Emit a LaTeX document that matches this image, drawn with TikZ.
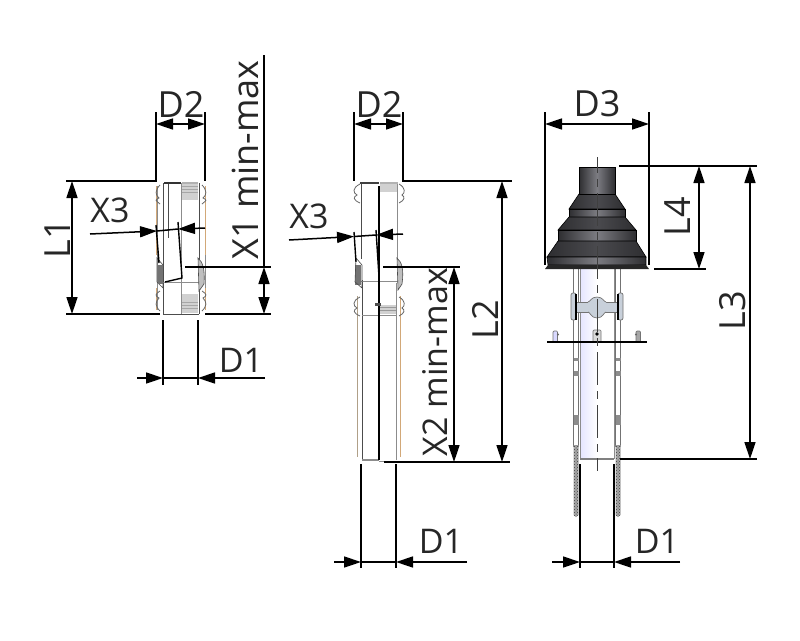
\documentclass[tikz,border=0pt]{standalone}
\usepackage{fontspec}
\setmainfont{Open Sans}
\usetikzlibrary{arrows.meta,patterns}
\definecolor{rubber}{HTML}{4A4A4E}
\definecolor{rubberhi}{HTML}{7C7C82}
\definecolor{rubberdk}{HTML}{2E2E31}
\definecolor{copper}{HTML}{D2A878}
\definecolor{copperg}{HTML}{B0A088}
\definecolor{clampc}{HTML}{C8D0DA}
\tikzset{
  dimline/.style={line width=1.5pt,black},
  extline/.style={line width=1.5pt,black},
  dimarrow/.style={line width=1.5pt,black,-{Triangle[length=17pt,width=11pt]}},
  dimtwo/.style={line width=1.5pt,black,{Triangle[length=17pt,width=11pt]}-{Triangle[length=17pt,width=11pt]}},
  lab/.style={font=\fontsize{36}{36}\selectfont,inner sep=0pt,text=black!85},
  labsm/.style={font=\fontsize{34}{34}\selectfont,inner sep=0pt,text=black!85},
  partline/.style={line width=0.9pt,black!70},
  partgrey/.style={line width=1pt,black!45},
  partdark/.style={line width=1.4pt,black},
  coppline/.style={line width=1pt,copper},
  rubberband/.style={left color=rubberdk,right color=rubberdk,middle color=rubberhi,draw=black,line width=0.6pt},
  rubbercone/.style={left color=rubberdk,right color=rubberdk,middle color=rubber,draw=black,line width=0.6pt},
  rod/.style={draw=black!55,line width=0.9pt,fill=white},
  centerl/.style={line width=1pt,black!75,dash pattern=on 33pt off 6pt on 8pt off 6pt,dash phase=17pt},
  clampp/.style={draw=black!55,line width=0.7pt,fill=clampc},
  stripeblock/.style={fill=black!18},
}
\begin{document}
\begin{tikzpicture}[x=1pt,y=-1pt]
\useasboundingbox (0,0) rectangle (800,640);
\fill[white] (0,0) rectangle (800,640);

% ---- left part ----
\fill[stripeblock] (182,184) rectangle (198,200);
\fill[stripeblock] (182,294) rectangle (198,313);
\foreach \yy in {186,189,192}{\draw[black!35,line width=.6pt] (182,\yy) -- (198,\yy);}
\foreach \yy in {302,305,308}{\draw[black!35,line width=.6pt] (182,\yy) -- (198,\yy);}
\draw[partgrey] (157,186) -- (157,310) (205,186) -- (205,310);
\draw[coppline,line width=.7pt] (156.5,186) -- (156.5,255) (205.5,186) -- (205.5,255) (156.5,288)--(156.5,310) (205.5,288)--(205.5,310);
\draw[partline] (163,183) -- (163,314) (199,183) -- (199,262) (199,290) -- (199,314);
\draw[partgrey] (181,183) -- (181,314) (163,282) -- (199,282);
\draw[partline] (163,314) -- (199,314);
\draw[line width=2pt,black!80] (164,183) -- (181,183);
\draw[line width=2.5pt,black!30] (182,183) -- (198,183);
\draw[line width=.8pt,black!60] (160,185) .. controls (155,190) and (155,195) .. (159,198) .. controls (155,200) and (155,200) .. (160,204);
\draw[line width=.8pt,black!60] (202,185) .. controls (207,190) and (207,195) .. (203,198) .. controls (207,200) and (207,200) .. (202,204);
\draw[line width=.8pt,black!60] (160,311) .. controls (155,306) and (155,302) .. (159,298) .. controls (155,296) and (155,294) .. (160,291);
\draw[line width=.8pt,black!60] (202,311) .. controls (207,306) and (207,302) .. (203,298) .. controls (207,296) and (207,294) .. (202,291);
\draw[black!70,line width=.6pt] (157,258) -- (163,265) -- (163,288) -- (157,282) -- cycle;
\fill[black!55] (158,265) rectangle (163,284);
\fill[black!25] (198,258) .. controls (203,262) and (205,270) .. (204,284) -- (199,291) -- cycle;
\draw[black!70,line width=.6pt] (198,258) .. controls (203,262) and (205,270) .. (204,284) -- (199,291) -- cycle;
\draw[partdark] (156,225) -- (159,263) (178,222) -- (182,278) -- (165,282);
\draw[partline] (168,184) -- (168,238);

\coordinate (L1t) at (66,181);\coordinate (L1b) at (66,314);
\coordinate (L1ta) at (72,181);\coordinate (L1ba) at (72,314);
\draw[extline] (L1t) -- (157,181) (L1b) -- (160,314) (205,314) -- (271,314);
\draw[dimtwo] (L1ta) -- (L1ba);
\node[lab,rotate=90] (tL1) at (58,239) {L1};
\draw[extline] (156,112) -- (156,181) (205,112) -- (205,181);
\coordinate (D2l) at (156,124);\coordinate (D2r) at (205,124);
\draw[dimtwo] (D2l) -- (D2r);
\node[lab] (tD2a) at (181,104) {D2};
\draw[extline] (185,267) -- (271,267);
\draw[extline] (264,55) -- (264,267);
\coordinate (X1t) at (264,267);\coordinate (X1b) at (264,314);
\draw[dimtwo] (X1t) -- (X1b);
\node[lab,rotate=90] (tX1) at (245,160) {X1 min-max};
\coordinate (X3s) at (90,234);\coordinate (X3a) at (157,231);\coordinate (X3b) at (178,229);\coordinate (X3e) at (205,228);
\draw[dimarrow] (X3s) -- (X3a);
\draw[dimarrow] (X3e) -- (X3b);
\draw[dimline] (X3a) -- (X3b);
\node[labsm] (tX3a) at (110,210) {X3};
\draw[extline] (163,320) -- (163,385) (198,320) -- (198,385);
\coordinate (D1ll) at (137,378);\coordinate (D1lr) at (163,378);\coordinate (D1rl) at (198,378);\coordinate (D1rr) at (265,378);
\draw[dimarrow] (D1ll) -- (D1lr);
\draw[dimarrow] (D1rr) -- (D1rl);
\draw[dimline] (D1lr) -- (D1rl);
\node[labsm] (tD1a) at (241,360) {D1};

% ---- middle part ----
\fill[stripeblock] (380,184) rectangle (397,192);
\fill[stripeblock] (380,305) rectangle (397,314);
\foreach \yy in {307,310}{\draw[black!40,line width=.6pt] (380,\yy) -- (397,\yy);}
\draw[partgrey] (397,183) -- (397,259);
\draw[partline] (361,183) -- (361,259) (362,280) -- (362,460);
\draw[partgrey] (396.5,283) -- (396.5,460);
\draw[partgrey,line width=1.4pt] (362,460) -- (379,460);
\draw[partgrey] (379,461) -- (397,461) (361,281) -- (398,281) (362,315) -- (397,315);
\draw[coppline,copperg] (357,296) -- (357,457);
\draw[coppline] (400,296) -- (400,457);
\draw[line width=2.5pt,black!75] (360,183) -- (379,183);
\draw[line width=2.5pt,black!30] (380,183) -- (398,183);
\draw[partdark] (379,186) -- (379,460);
\draw[line width=.8pt,black!60] (360,184) .. controls (352,188) and (353,193) .. (357,195) .. controls (353,197) and (353,200) .. (360,203);
\draw[line width=.8pt,black!60] (399,184) .. controls (406,188) and (405,193) .. (402,195) .. controls (405,197) and (405,200) .. (399,203);
\draw[line width=.8pt,black!60] (360,297) .. controls (352,301) and (353,306) .. (357,308) .. controls (353,310) and (353,313) .. (360,316);
\draw[line width=.8pt,black!60] (399,297) .. controls (406,301) and (405,306) .. (402,308) .. controls (405,310) and (405,313) .. (399,316);
\fill[black!55] (355,265) rectangle (361,285);
\draw[black!70,line width=.6pt] (356,258) -- (362,265) -- (362,288) -- (355,282) -- cycle;
\fill[black!25] (397,258) .. controls (402,262) and (404,270) .. (402,284) -- (398,290) -- cycle;
\draw[black!70,line width=.6pt] (397,258) .. controls (402,262) and (404,270) .. (402,284) -- (398,290) -- cycle;
\fill[black!70] (375,303) rectangle (381,306);
\draw[partdark] (354,232) -- (356,262) (376,230) -- (379,277);

\draw[extline] (354,112) -- (354,181) (403,112) -- (403,181) -- (512,181);
\coordinate (D2bl) at (354,124);\coordinate (D2br) at (403,124);
\draw[dimtwo] (D2bl) -- (D2br);
\node[lab] (tD2b) at (379,104) {D2};
\coordinate (L2t) at (502,181);\coordinate (L2b) at (502,462);
\draw[dimtwo] (L2t) -- (L2b);
\draw[extline] (384,462) -- (510,462);
\node[lab,rotate=90] (tL2) at (485,320) {L2};
\draw[extline] (383,267) -- (460,267);
\coordinate (X2t) at (454,267);\coordinate (X2b) at (454,462);
\draw[dimtwo] (X2t) -- (X2b);
\node[labsm,rotate=90] (tX2) at (435,362) {X2 min-max};
\coordinate (X3bs) at (289,240);\coordinate (X3ba) at (354,236.5);\coordinate (X3bb) at (376,235);\coordinate (X3be) at (403,234);
\draw[dimarrow] (X3bs) -- (X3ba);
\draw[dimarrow] (X3be) -- (X3bb);
\draw[dimline] (X3ba) -- (X3bb);
\node[labsm] (tX3b) at (309,216) {X3};
\draw[extline] (361,464) -- (361,568) (396,464) -- (396,568);
\coordinate (D1bll) at (334,562);\coordinate (D1blr) at (361,562);\coordinate (D1brl) at (396,562);\coordinate (D1brr) at (467,562);
\draw[dimarrow] (D1bll) -- (D1blr);
\draw[dimarrow] (D1brr) -- (D1brl);
\draw[dimline] (D1blr) -- (D1brl);
\node[labsm] (tD1b) at (441,541) {D1};

% ---- right part ----
\shade[left color=blue!10,right color=white] (580,268) rectangle (597,459);
\draw[line width=.9pt,black!45] (580,268) -- (580,459) (614,268) -- (614,459);
\draw[line width=1.2pt,black!50] (580,459) -- (614,459);
% rods
\foreach \xa in {573.5,615.5}{
  \draw[rod] (\xa,268) rectangle (\xa+5,446);
  \fill[black!45] (\xa,358) rectangle (\xa+5,361);
  \fill[black!45] (\xa,415) rectangle (\xa+5,425);
  \fill[black!45] (\xa,371) rectangle (\xa+5,376);
  \fill[black!35] (\xa,445) -- (\xa+5,445) -- (\xa+5,515) -- (\xa+2.5,517) -- (\xa,515) -- cycle;
  \fill[pattern=crosshatch dots,pattern color=black!75] (\xa,445) -- (\xa+5,445) -- (\xa+5,515) -- (\xa+2.5,517) -- (\xa,515) -- cycle;
}
% clamp
\draw[clampp] (576,302) rectangle (618,312);
\fill[clampc] (597,297) .. controls (603,297) and (604,302) .. (606,302) -- (606,312) .. controls (604,312) and (603,318) .. (597,318) .. controls (591,318) and (590,312) .. (588,312) -- (588,302) .. controls (590,302) and (591,297) .. (597,297) -- cycle;
\draw[black!55,line width=.7pt] (606,302) .. controls (604,302) and (603,297) .. (597,297) .. controls (591,297) and (590,302) .. (588,302);
\draw[black!55,line width=.7pt] (606,312) .. controls (604,312) and (603,318) .. (597,318) .. controls (591,318) and (590,312) .. (588,312);
\draw[clampp,rounded corners=2pt] (571,293) rectangle (576,320);
\draw[clampp,rounded corners=2pt] (618,293) rectangle (623,320);
\draw[line width=1.2pt,black] (576,294) -- (576,320) (618,294) -- (618,320);
% brackets
\draw[clampp,fill=black!15,rounded corners=1pt] (593,330) rectangle (601,342);
\fill[black] (597,334) circle (1.8pt);
\draw[clampp,fill=blue!15,rounded corners=1pt] (553,331) rectangle (557.5,342);
\draw[clampp,fill=black!35,rounded corners=1pt] (636,331) rectangle (640.5,342);
\fill[black!60] (558,334.5) circle (1.2pt) (636,334.5) circle (1.2pt);
\draw[line width=1.2pt,black] (547,342) -- (647,342);
% rubber flashing
\shade[rubbercone] (579,194) -- (615,194) -- (625,209) -- (569,209) -- cycle;
\shade[rubberband] (569,209) -- (625,209) -- (625,217) -- (569,217) -- cycle;
\shade[rubbercone] (569,217) -- (625,217) -- (636,230) -- (558,230) -- cycle;
\shade[rubberband] (558,230) -- (636,230) -- (636,241) -- (558,241) -- cycle;
\shade[rubbercone] (558,241) -- (636,241) -- (646,257) -- (547,257) -- cycle;
\shade[rubberband] (547,257) -- (646,257) -- (646,265) -- (548,265) -- cycle;
\fill[black!85] (545,269) -- (548,265) -- (646,265) -- (649,269) -- cycle;
\shade[left color=rubberdk,right color=rubberdk,middle color=rubberhi,draw=black,line width=.6pt] (579,167) rectangle (615,194);
\draw[centerl] (597,157) -- (597,471);

\draw[extline] (545,112) -- (545,265) (649,112) -- (649,265);
\coordinate (D3l) at (545,124);\coordinate (D3r) at (649,124);
\draw[dimtwo] (D3l) -- (D3r);
\node[lab] (tD3) at (597,104) {D3};
\draw[extline] (619,166) -- (757,166) (654,269) -- (706,269) (620,459) -- (757,459);
\coordinate (L4t) at (699,166);\coordinate (L4b) at (699,269);
\draw[dimtwo] (L4t) -- (L4b);
\node[lab,rotate=90] (tL4) at (678,217) {L4};
\coordinate (L3t) at (750,166);\coordinate (L3b) at (750,459);
\draw[dimtwo] (L3t) -- (L3b);
\node[lab,rotate=90] (tL3) at (733,311) {L3};
\draw[extline] (580,464) -- (580,568) (614,464) -- (614,568);
\coordinate (D1cll) at (552,562);\coordinate (D1clr) at (580,562);\coordinate (D1crl) at (614,562);\coordinate (D1crr) at (680,562);
\draw[dimarrow] (D1cll) -- (D1clr);
\draw[dimarrow] (D1crr) -- (D1crl);
\draw[dimline] (D1clr) -- (D1crl);
\node[labsm] (tD1c) at (657,541) {D1};
\end{tikzpicture}
\end{document}
